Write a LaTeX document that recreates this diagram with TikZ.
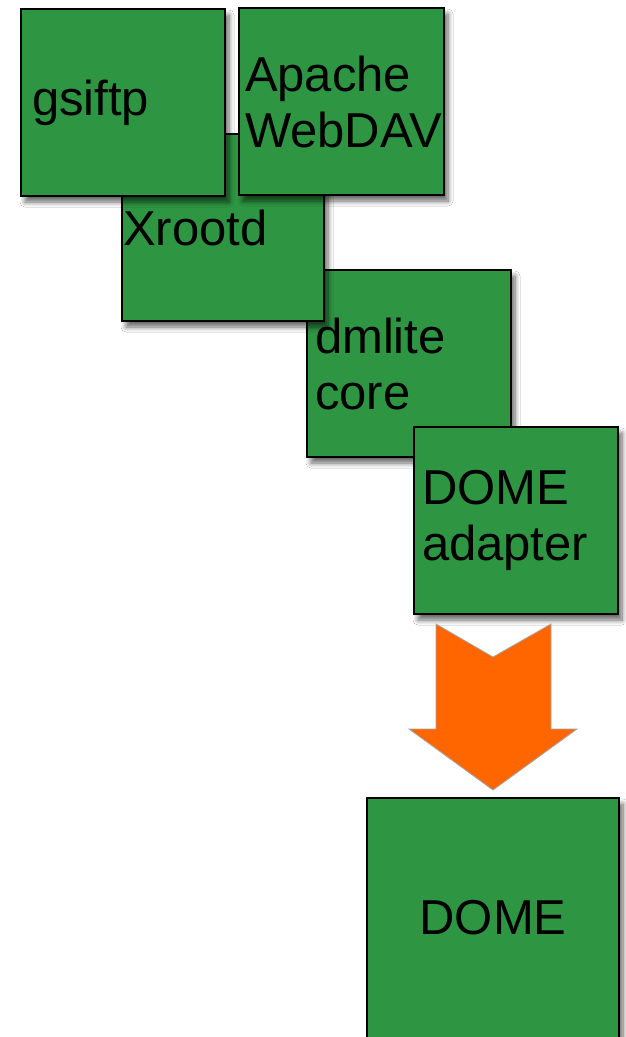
\documentclass[tikz,border=0pt]{standalone}
\usepackage{fontspec}
\setmainfont{Liberation Sans}
\usetikzlibrary{shadows.blur}
\definecolor{boxgreen}{RGB}{46,150,66}
\definecolor{arroworange}{RGB}{255,102,0}
\tikzset{
  layer/.style={draw=black, line width=2pt, fill=boxgreen,
    blur shadow={shadow xshift=4pt, shadow yshift=-6pt, shadow blur radius=5pt, shadow blur steps=8, shadow opacity=60},
    anchor=north west, inner xsep=8pt, inner ysep=0pt,
    text width=188pt, align=left, minimum height=187pt,
    font=\fontsize{49}{56}\selectfont}
}
\begin{document}
\begin{tikzpicture}[x=1pt, y=-1pt]
    \useasboundingbox[fill=white] (0,0) rectangle (625,1037);

    % Lower stack
    \node[layer] (core) at (306,269) {dmlite\\core};
    \node[layer] (adapter) at (413,426) {DOME\\adapter};

    % Xrootd
    \node[layer, inner xsep=1pt, text width=200pt] (xrootd) at (121,133) {Xrootd};

    % Top row
    \node[layer, inner xsep=11pt, text width=182pt] (gsiftp) at (20,8) {\raisebox{-4pt}{gsiftp}};
    \node[layer, inner xsep=6pt, text width=193pt] (webdav) at (238,7) {Apache\\WebDAV};

    % DOME
    \node[layer, anchor=north, align=center, text width=236pt, minimum height=240pt] (dome) at (493,797) {DOME};

    % Arrow
    \begin{scope}[shift={(dome.north)}]
      \filldraw[fill=arroworange, draw=gray!70, line width=0.8pt]
        (-57,-173) -- (0,-140) -- (58,-173) -- (58,-68) -- (84,-68)
        -- (0,-7) -- (-84,-68) -- (-57,-68) -- cycle;
    \end{scope}

\end{tikzpicture}
\end{document}
